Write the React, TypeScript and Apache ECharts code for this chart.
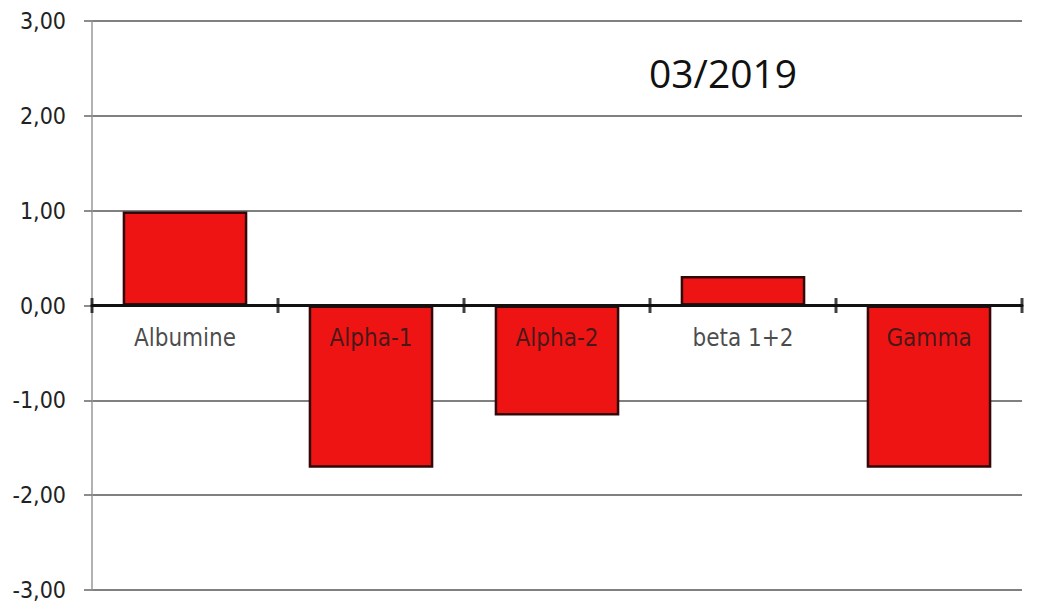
import React, { useEffect, useRef } from "react";
import * as echarts from "echarts";

const categories = ["Albumine", "Alpha-1", "Alpha-2", "beta 1+2", "Gamma"];
const values = [0.99, -1.71, -1.16, 0.31, -1.71];
const boundaries = [0, 1, 2, 3, 4, 5];
const yTicks = { min: -3, max: 3, interval: 1 };
const title = "03/2019";

const FONT = "'DejaVu Sans Condensed', 'DejaVu Sans', sans-serif";

export default function App() {
  const ref = useRef<HTMLDivElement>(null);
  useEffect(() => {
    const chart = echarts.init(ref.current!, null, { renderer: "svg" });
    chart.setOption({
      animation: false,
      backgroundColor: "#ffffff",
      grid: { left: 92, right: 15, top: 21, bottom: 23, containLabel: false, outerBoundsMode: "none" },
      graphic: [
        {
          type: "text",
          x: 649,
          y: 72,
          style: {
            text: title,
            font: "39px 'Open Sans', sans-serif",
            fill: "#111",
            textVerticalAlign: "middle",
          },
          z: 20,
        },
      ],
      xAxis: [
        {
          type: "category",
          data: categories,
          position: "bottom",
          z: 10,
          axisLine: { onZero: true, lineStyle: { color: "#111", width: 3 } },
          axisTick: { show: false },
          axisLabel: { show: false },
          splitLine: { show: false },
        },
        {
          type: "value",
          min: 0,
          max: boundaries.length - 1,
          show: false,
          axisLine: { onZero: false },
        },
      ],
      yAxis: {
        type: "value",
        min: yTicks.min,
        max: yTicks.max,
        interval: yTicks.interval,
        z: 0,
        axisLine: { show: true, onZero: false, lineStyle: { color: "#999", width: 1.5 } },
        axisTick: { show: true, length: 8, lineStyle: { color: "#808080", width: 1.8 } },
        axisLabel: {
          margin: 26,
          fontSize: 23,
          color: "#222",
          fontFamily: FONT,
          formatter: (v: number) => v.toFixed(2).replace(".", ","),
        },
        splitLine: { show: true, lineStyle: { color: "#808080", width: 1.8 } },
      },
      series: [
        {
          type: "bar",
          xAxisIndex: 0,
          data: values,
          barWidth: "67%",
          itemStyle: { color: "#ee1414", borderColor: "#300808", borderWidth: 2.5 },
          z: 2,
        },
        {
          type: "scatter",
          xAxisIndex: 0,
          data: categories.map(() => 0),
          symbolSize: 0,
          silent: true,
          z: 12,
          label: {
            show: true,
            position: "bottom",
            distance: 20,
            formatter: "{b}",
            fontSize: 24,
            color: "#1a1a1a",
            fontFamily: FONT,
          },
        },
        {
          type: "scatter",
          xAxisIndex: 1,
          data: boundaries.map((b) => [b, 0]),
          symbol: "rect",
          symbolSize: [3, 15],
          itemStyle: { color: "#111" },
          silent: true,
          z: 11,
        },
      ],
    });
    return () => chart.dispose();
  }, []);
  return <div ref={ref} style={{ width: 1037, height: 613, position: "absolute", left: 0, top: 0 }} />;
}
